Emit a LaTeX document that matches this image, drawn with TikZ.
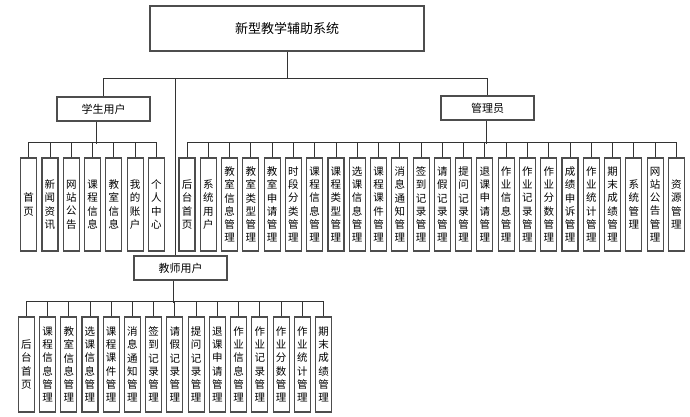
\documentclass[tikz,border=0pt]{standalone}
\usepackage{fontspec}
\setmainfont{Noto Sans CJK SC}
\usepackage{xcolor}
\usepackage{tikz}
\definecolor{lineColor}{HTML}{333333}
\definecolor{boxColor}{HTML}{4D4D4D}

\tikzset{
    box/.style={draw=boxColor, line width=1.1pt, fill=white, inner sep=0pt, align=center},
    midbox/.style={box, minimum width=93pt, minimum height=24pt, font=\fontsize{11}{13}\selectfont},
    leaf/.style={box, minimum width=16pt, minimum height=93pt, font=\fontsize{10.5}{13.3}\selectfont},
    conn/.style={draw=lineColor, line width=0.9pt},
}

\begin{document}
\begin{tikzpicture}[x=1pt, y=-1pt]
    \useasboundingbox (0,0) rectangle (690,417);
    % top levels
    \node[box, minimum width=274pt, minimum height=45pt, font=\fontsize{13}{15}\selectfont] (root) at (287,28.5) {新型教学辅助系统};
    \node[midbox] (stu) at (103.5,109) {学生用户};
    \node[midbox] (adm) at (487.5,108) {管理员};
    \node[midbox] (tea) at (180.5,268) {教师用户};
    \coordinate (tbranch) at (175.7,79);
    \coordinate (sstem) at (96,0);
    \coordinate (astem) at (486,0);
    \coordinate (tstem) at (173.3,0);
    \draw[conn] (root.south) -- (root.south |- tbranch);
    \draw[conn] (stu.north) -- ++(0,-18) -| (adm.north);
    \draw[conn] (tbranch) -- (tbranch |- tea.north);
    % student leaves
    \foreach \t [count=\i] in {首\\页, 新\\闻\\资\\讯, 网\\站\\公\\告, 课\\程\\信\\息, 教\\室\\信\\息, 我\\的\\账\\户, 个\\人\\中\\心}
        \node[leaf] (s\i) at ({28.7+21.28*(\i-1)},204.5) {\t};
    \draw[conn] (stu.south -| sstem) -- ++(0,22);
    \draw[conn] (s1.north) -- ++(0,-15) -| (s7.north);
    \foreach \i in {2,...,6}
        \draw[conn] (s\i.north) -- ++(0,-15);
    % admin leaves
    \foreach \t [count=\i] in {后\\台\\首\\页, 系\\统\\用\\户, 教\\室\\信\\息\\管\\理, 教\\室\\类\\型\\管\\理,
        教\\室\\申\\请\\管\\理, 时\\段\\分\\类\\管\\理, 课\\程\\信\\息\\管\\理, 课\\程\\类\\型\\管\\理,
        选\\课\\信\\息\\管\\理, 课\\程\\课\\件\\管\\理, 消\\息\\通\\知\\管\\理, 签\\到\\记\\录\\管\\理,
        请\\假\\记\\录\\管\\理, 提\\问\\记\\录\\管\\理, 退\\课\\申\\请\\管\\理, 作\\业\\信\\息\\管\\理,
        作\\业\\记\\录\\管\\理, 作\\业\\分\\数\\管\\理, 成\\绩\\申\\诉\\管\\理, 作\\业\\统\\计\\管\\理,
        期\\末\\成\\绩\\管\\理, 系\\统\\管\\理, 网\\站\\公\\告\\管\\理, 资\\源\\管\\理}
        \node[leaf] (a\i) at ({187+21.28*(\i-1)},204.5) {\t};
    \draw[conn] (adm.south -| astem) -- ++(0,23);
    \draw[conn] (a1.north) -- ++(0,-15) -| (a24.north);
    \foreach \i in {2,...,23}
        \draw[conn] (a\i.north) -- ++(0,-15);
    % teacher leaves
    \foreach \t [count=\i] in {后\\台\\首\\页, 课\\程\\信\\息\\管\\理, 教\\室\\信\\息\\管\\理, 选\\课\\信\\息\\管\\理,
        课\\程\\课\\件\\管\\理, 消\\息\\通\\知\\管\\理, 签\\到\\记\\录\\管\\理, 请\\假\\记\\录\\管\\理,
        提\\问\\记\\录\\管\\理, 退\\课\\申\\请\\管\\理, 作\\业\\信\\息\\管\\理, 作\\业\\记\\录\\管\\理,
        作\\业\\分\\数\\管\\理, 作\\业\\统\\计\\管\\理, 期\\末\\成\\绩\\管\\理}
        \node[leaf, minimum height=95pt] (t\i) at ({26.3+21.23*(\i-1)},364.5) {\t};
    \draw[conn] (tea.south -| tstem) -- ++(0,22);
    \draw[conn] (t1.north) -- ++(0,-15) -| (t15.north);
    \foreach \i in {2,...,14}
        \draw[conn] (t\i.north) -- ++(0,-15);
\end{tikzpicture}
\end{document}
